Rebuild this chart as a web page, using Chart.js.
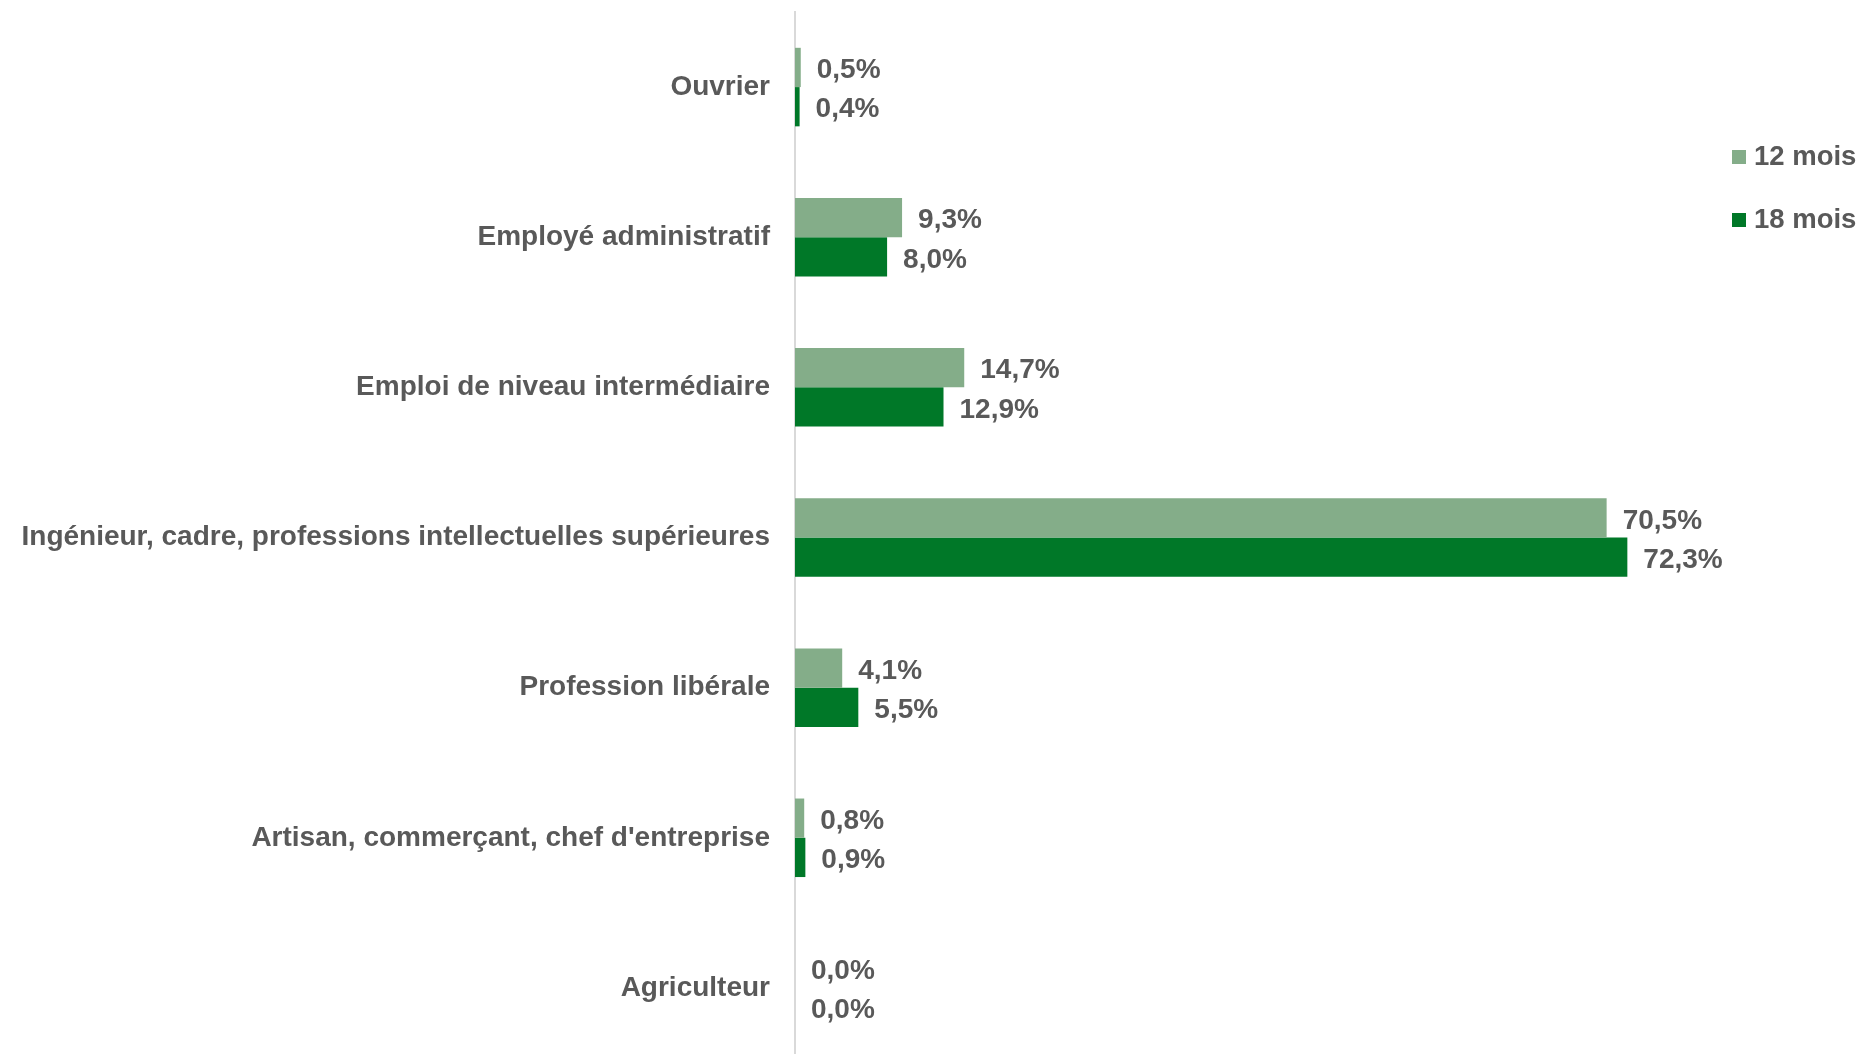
<!DOCTYPE html>
<html lang="fr">
<head>
<meta charset="utf-8">
<script src="https://cdn.jsdelivr.net/npm/chart.js@4"></script>
<style>
  html, body { margin: 0; padding: 0; background: #fff; overflow: hidden; }
  .chart-wrap { position: relative; width: 1864px; height: 1075px; }
  .legend { position: absolute; left: 1732px; top: 0; font: bold 27.5px "Liberation Sans", Arial, sans-serif; color: #595959; }
  .legend div { position: absolute; left: 0; height: 32px; line-height: 32px; white-space: nowrap; }
  .legend span.box { display: inline-block; width: 14px; height: 14px; margin-right: 8px; vertical-align: 1px; }
</style>
</head>
<body>
<div class="chart-wrap">
  <canvas id="csChart"></canvas>
  <div class="legend" id="legend"></div>
</div>
<script>
const categories = [
  'Ouvrier',
  'Employé administratif',
  'Emploi de niveau intermédiaire',
  'Ingénieur, cadre, professions intellectuelles supérieures',
  'Profession libérale',
  "Artisan, commerçant, chef d'entreprise",
  'Agriculteur'
];
const seriesNames = ['12 mois', '18 mois'];
const values12 = [0.5, 9.3, 14.7, 70.5, 4.1, 0.8, 0.0];
const values18 = [0.4, 8.0, 12.9, 72.3, 5.5, 0.9, 0.0];
const colors = ['#84ad89', '#007828'];

const textColor = '#595959';
const font = '"Liberation Sans", Arial, sans-serif';
const fmt = (v) => v.toFixed(1).replace('.', ',') + '%';

// value labels to the right of each bar
const valueLabels = {
  id: 'valueLabels',
  afterDatasetsDraw(chart) {
    const ctx = chart.ctx;
    ctx.save();
    ctx.font = `bold 28px ${font}`;
    ctx.fillStyle = textColor;
    ctx.textAlign = 'left';
    ctx.textBaseline = 'middle';
    chart.data.datasets.forEach((ds, i) => {
      chart.getDatasetMeta(i).data.forEach((bar, j) => {
        ctx.fillText(fmt(ds.data[j]), bar.x + 16, bar.y + 3);
      });
    });
    ctx.restore();
  }
};

const canvas = document.querySelector('#csChart');
new Chart(canvas, {
  type: 'bar',
  data: {
    labels: categories,
    datasets: [
      { label: seriesNames[0], data: values12, backgroundColor: colors[0], borderWidth: 0 },
      { label: seriesNames[1], data: values18, backgroundColor: colors[1], borderWidth: 0 }
    ]
  },
  options: {
    indexAxis: 'y',
    responsive: true,
    maintainAspectRatio: false,
    animation: false,
    categoryPercentage: 0.523,
    barPercentage: 1,
    layout: { padding: { left: 0, right: 148, top: 12, bottom: 12 } },
    plugins: { legend: { display: false }, tooltip: { enabled: false } },
    scales: {
      x: { display: false, min: 0, max: 80 },
      y: {
        afterFit(scale) {
          scale.width = 795;
          scale.paddingTop = 0;
          scale.paddingBottom = 0;
        },
        grid: { display: false, drawTicks: false },
        border: { display: true, color: '#d9d9d9', width: 2 },
        ticks: { color: textColor, padding: 25, font: { family: font, size: 28, weight: 'bold' } }
      }
    }
  },
  plugins: [valueLabels]
});

const legend = document.querySelector('#legend');
const legendTops = [140, 203];
seriesNames.forEach((name, i) => {
  const item = document.createElement('div');
  item.style.top = legendTops[i] + 'px';
  item.innerHTML = `<span class="box" style="background:${colors[i]}"></span>${name}`;
  legend.appendChild(item);
});
</script>
</body>
</html>
